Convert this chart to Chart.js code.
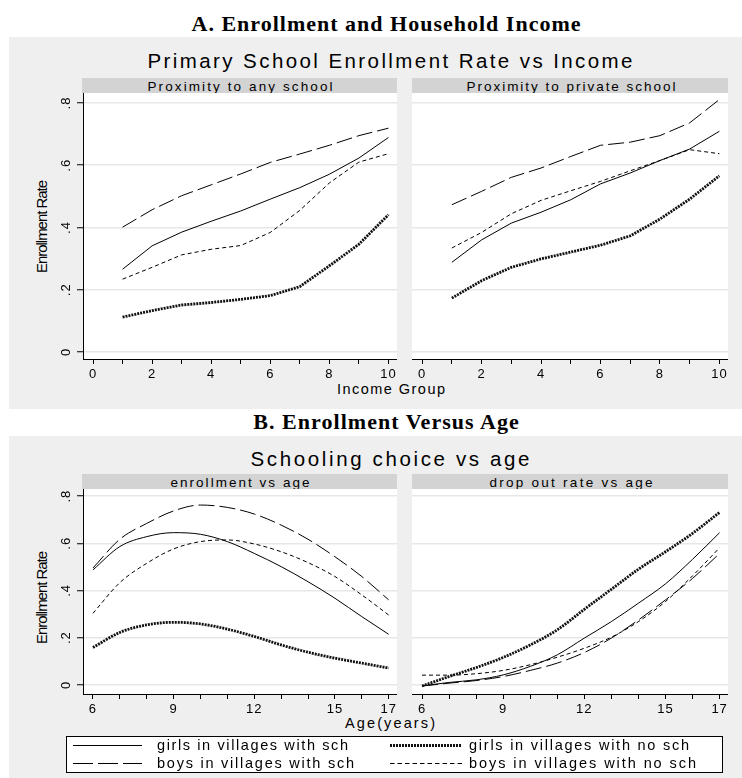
<!DOCTYPE html>
<html>
<head>
<meta charset="utf-8">
<script src="https://cdn.jsdelivr.net/npm/chart.js@4.4.1/dist/chart.umd.min.js"></script>
<style>
  html, body { margin: 0; padding: 0; background: #fff; }
  #page { position: relative; width: 742px; height: 778px; overflow: hidden;
          font-family: "Liberation Sans", Arial, sans-serif; color: #000; }
  .blk { position: absolute; }
  .panel { background: #efefef; }
  .strip { background: #d3d3d3; }
  .txt { position: absolute; white-space: nowrap; line-height: 1; }
  canvas { position: absolute; }
  svg { position: absolute; overflow: visible; }
</style>
</head>
<body>
<div id="page"></div>
<script>
// ---------- data ----------
const incomeGroups = [1, 2, 3, 4, 5, 6, 7, 8, 9, 10];
const ages = [6, 7, 8, 9, 10, 11, 12, 13, 14, 15, 16, 17];

const seriesLabels = {
  girlsSch:   'girls in villages with sch',
  girlsNoSch: 'girls in villages with no sch',
  boysSch:    'boys in villages with sch',
  boysNoSch:  'boys in villages with no sch'
};

// Enrollment rate by income group, proximity to any school
const anyGirlsSch   = [0.266, 0.341, 0.385, 0.420, 0.453, 0.491, 0.528, 0.571, 0.623, 0.689];
const anyGirlsNoSch = [0.112, 0.133, 0.151, 0.159, 0.169, 0.181, 0.210, 0.277, 0.346, 0.441];
const anyBoysSch    = [0.401, 0.457, 0.502, 0.537, 0.572, 0.609, 0.636, 0.664, 0.695, 0.719];
const anyBoysNoSch  = [0.234, 0.272, 0.312, 0.330, 0.342, 0.384, 0.455, 0.543, 0.610, 0.637];

// Enrollment rate by income group, proximity to private school
const privGirlsSch   = [0.288, 0.360, 0.414, 0.449, 0.489, 0.540, 0.575, 0.615, 0.652, 0.709];
const privGirlsNoSch = [0.173, 0.229, 0.272, 0.299, 0.321, 0.343, 0.373, 0.427, 0.491, 0.566];
const privBoysSch    = [0.473, 0.516, 0.561, 0.591, 0.628, 0.664, 0.674, 0.695, 0.736, 0.811];
const privBoysNoSch  = [0.334, 0.384, 0.444, 0.487, 0.518, 0.548, 0.582, 0.615, 0.650, 0.637];

// Enrollment by age
const enrGirlsSch   = [0.487, 0.586, 0.628, 0.645, 0.638, 0.607, 0.557, 0.501, 0.437, 0.367, 0.289, 0.214];
const enrGirlsNoSch = [0.158, 0.222, 0.254, 0.265, 0.258, 0.236, 0.205, 0.169, 0.138, 0.113, 0.092, 0.071];
const enrBoysSch    = [0.495, 0.617, 0.684, 0.737, 0.762, 0.752, 0.724, 0.677, 0.617, 0.543, 0.459, 0.360];
const enrBoysNoSch  = [0.303, 0.433, 0.515, 0.576, 0.607, 0.614, 0.597, 0.564, 0.518, 0.459, 0.381, 0.296];

// Drop out rate by age
const dropGirlsSch   = [-0.005, 0.010, 0.021, 0.042, 0.078, 0.127, 0.198, 0.268, 0.346, 0.428, 0.532, 0.645];
const dropGirlsNoSch = [-0.005, 0.035, 0.073, 0.116, 0.169, 0.233, 0.320, 0.405, 0.490, 0.564, 0.642, 0.731];
const dropBoysSch    = [-0.005, 0.007, 0.018, 0.035, 0.061, 0.092, 0.137, 0.198, 0.275, 0.360, 0.451, 0.557];
const dropBoysNoSch  = [0.041, 0.041, 0.047, 0.061, 0.085, 0.117, 0.155, 0.202, 0.268, 0.353, 0.462, 0.581];

// Axis ticks
const rateTicks       = [0, 0.2, 0.4, 0.6, 0.8];
const rateTickLabels  = ['0', '.2', '.4', '.6', '.8'];
const incomeTicks     = [0, 1, 2, 3, 4, 5, 6, 7, 8, 9, 10];
const incomeTickLabels = ['0', '', '2', '', '4', '', '6', '', '8', '', '10'];
const ageTicks        = [6, 7, 8, 9, 10, 11, 12, 13, 14, 15, 16, 17];
const ageTickLabels   = ['6', '', '', '9', '', '', '12', '', '', '15', '', '17'];

// ---------- styles ----------
const lineStyles = {
  girlsSch:   { borderWidth: 1,   borderDash: [],      borderColor: '#000' },
  girlsNoSch: { borderWidth: 2.8, borderDash: [2, 1],  borderColor: '#111' },
  boysSch:    { borderWidth: 1,   borderDash: [16, 5], borderColor: '#000' },
  boysNoSch:  { borderWidth: 1,   borderDash: [4, 3],  borderColor: '#000' }
};
const legendDash = { girlsSch: '', girlsNoSch: '2 1', boysSch: '20 5', boysNoSch: '4.5 3' };

const SANS = '"Liberation Sans", Arial, sans-serif';
const SERIF = '"Liberation Serif", "Times New Roman", serif';
const Y_AXIS_LEFT = 40;   // left edge of the canvases that carry y tick labels
const X_AXIS_H = 26;      // room under each plot for x ticks and labels

const page = document.getElementById('page');
const meas = document.createElement('canvas').getContext('2d');

function block(cls, l, t, w, h) {
  const d = document.createElement('div');
  d.className = 'blk ' + cls;
  Object.assign(d.style, { left: l + 'px', top: t + 'px', width: w + 'px', height: h + 'px' });
  page.appendChild(d);
  return d;
}

// text centred on (cx, cy), spread to a given visible width
function text(str, cx, cy, font, width, opt = {}) {
  meas.font = font;
  const nat = meas.measureText(str).width;
  const ls = width ? (width - nat) / (str.length - 1) : 0;
  const d = document.createElement('div');
  d.className = 'txt';
  d.textContent = str;
  d.style.font = font;
  d.style.letterSpacing = ls + 'px';
  if (opt.align === 'left') {
    d.style.left = cx + 'px';
    d.style.top = cy + 'px';
    d.style.transform = 'translate(0,-50%)';
  } else {
    d.style.left = (cx + ls / 2) + 'px';
    d.style.top = cy + 'px';
    d.style.transform = 'translate(-50%,-50%)' + (opt.rotate ? ' rotate(-90deg)' : '');
  }
  page.appendChild(d);
  return d;
}

const plotBackground = {
  id: 'plotBackground',
  beforeDraw(chart) {
    const { ctx, chartArea: a } = chart;
    ctx.save();
    ctx.fillStyle = '#fff';
    ctx.fillRect(a.left, a.top, a.right - a.left, a.bottom - a.top);
    ctx.restore();
    ctx.letterSpacing = '1px';
  }
};

function zeroPad(s) { s.paddingLeft = s.paddingRight = s.paddingTop = s.paddingBottom = 0; }

function panel(box, cfg) {
  const left = cfg.showY ? Y_AXIS_LEFT : box.l;
  const W = box.r - left;
  const H = box.b - box.t + X_AXIS_H;
  const yW = box.l - left;
  const c = document.createElement('canvas');
  c.width = W; c.height = H;
  Object.assign(c.style, { left: left + 'px', top: box.t + 'px', width: W + 'px', height: H + 'px' });
  page.appendChild(c);

  const datasets = cfg.series.map(s => Object.assign({
    label: seriesLabels[s.key],
    data: cfg.xs.map((x, i) => ({ x, y: s.values[i] })),
    pointRadius: 0,
    fill: false,
    borderCapStyle: 'butt',
    borderJoinStyle: 'round',
    tension: cfg.smooth ? 0.4 : 0,
    cubicInterpolationMode: cfg.smooth ? 'monotone' : 'default'
  }, lineStyles[s.key]));

  return new Chart(c, {
    type: 'line',
    data: { datasets },
    options: {
      responsive: false, animation: false, devicePixelRatio: 1, events: [],
      layout: { padding: 0, autoPadding: false },
      plugins: { legend: { display: false }, tooltip: { enabled: false } },
      scales: {
        x: {
          type: 'linear', min: cfg.xMin, max: cfg.xMax,
          afterBuildTicks: s => { s.ticks = cfg.xTicks.map(v => ({ value: v })); },
          afterFit: s => { s.height = X_AXIS_H; zeroPad(s); },
          grid: { display: true, drawOnChartArea: false, drawTicks: true, tickLength: 5, tickColor: '#000', tickWidth: 1 },
          border: { display: true, color: '#000', width: 1 },
          ticks: { callback: (v, i) => cfg.xLabels[i], autoSkip: false, maxRotation: 0, minRotation: 0,
                   padding: 3, color: '#000', font: { family: SANS, size: 13 } }
        },
        y: {
          type: 'linear', min: cfg.yMin, max: cfg.yMax,
          afterBuildTicks: s => { s.ticks = rateTicks.map(v => ({ value: v })); },
          afterFit: s => { s.width = yW; zeroPad(s); },
          grid: { color: '#e7e7e7', lineWidth: 1.5, drawTicks: cfg.showY, tickLength: 6, tickColor: '#000', tickWidth: 1 },
          border: { display: cfg.showY, color: '#000', width: 1 },
          ticks: { display: cfg.showY, callback: (v, i) => rateTickLabels[i], minRotation: 90, maxRotation: 90,
                   crossAlign: 'center', padding: 5, color: '#000', font: { family: SANS, size: 13 } }
        }
      }
    },
    plugins: [plotBackground]
  });
}

// ---------- layout ----------
const plots = {
  aL: { l: 83,  t: 93,  r: 397, b: 359 },
  aR: { l: 412, t: 93,  r: 728, b: 359 },
  bL: { l: 83,  t: 489, r: 397, b: 694 },
  bR: { l: 412, t: 489, r: 728, b: 694 }
};

// Section A
text('A. Enrollment and Household Income', 386, 24, 'bold 22px ' + SERIF, 389);
block('panel', 9, 37, 733, 372);
text('Primary School Enrollment Rate vs Income', 390, 61, '20.5px ' + SANS, 485);
block('strip', 82, 78, 315, 15);
block('strip', 412, 78, 316, 15);
text('Proximity to any school', 240, 85.5, '13.5px ' + SANS, 185);
text('Proximity to private school', 571, 85.5, '13.5px ' + SANS, 209);
text('Enrollment Rate', 42, 227, '15px ' + SANS, 93, { rotate: true });
text('Income Group', 391, 389, '14.5px ' + SANS, 108);

const incomeCfg = { xs: incomeGroups, xMin: -0.34, xMax: 10.29, yMin: -0.0225, yMax: 0.832,
                    xTicks: incomeTicks, xLabels: incomeTickLabels, smooth: false };
panel(plots.aL, Object.assign({}, incomeCfg, { showY: true, series: [
  { key: 'girlsNoSch', values: anyGirlsNoSch },
  { key: 'boysNoSch', values: anyBoysNoSch },
  { key: 'boysSch', values: anyBoysSch },
  { key: 'girlsSch', values: anyGirlsSch }
]}));
panel(plots.aR, Object.assign({}, incomeCfg, { showY: false, series: [
  { key: 'girlsNoSch', values: privGirlsNoSch },
  { key: 'boysNoSch', values: privBoysNoSch },
  { key: 'boysSch', values: privBoysSch },
  { key: 'girlsSch', values: privGirlsSch }
]}));

// Section B
text('B. Enrollment Versus Age', 386, 422, 'bold 22px ' + SERIF, 267);
block('panel', 9, 436, 733, 342);
text('Schooling choice vs age', 390, 459, '20.5px ' + SANS, 279);
block('strip', 82, 474, 315, 15);
block('strip', 412, 474, 316, 15);
text('enrollment vs age', 240, 481.5, '13.5px ' + SANS, 139);
text('drop out rate vs age', 571, 481.5, '13.5px ' + SANS, 163);
text('Enrollment Rate', 42, 598, '15px ' + SANS, 93, { rotate: true });
text('Age(years)', 390, 723, '14.5px ' + SANS, 90);

const ageCfg = { xs: ages, xMin: 5.63, xMax: 17.31, yMin: -0.039, yMax: 0.83,
                 xTicks: ageTicks, xLabels: ageTickLabels, smooth: true };
panel(plots.bL, Object.assign({}, ageCfg, { showY: true, series: [
  { key: 'girlsNoSch', values: enrGirlsNoSch },
  { key: 'boysNoSch', values: enrBoysNoSch },
  { key: 'boysSch', values: enrBoysSch },
  { key: 'girlsSch', values: enrGirlsSch }
]}));
panel(plots.bR, Object.assign({}, ageCfg, { showY: false, series: [
  { key: 'girlsNoSch', values: dropGirlsNoSch },
  { key: 'boysNoSch', values: dropBoysNoSch },
  { key: 'boysSch', values: dropBoysSch },
  { key: 'girlsSch', values: dropGirlsSch }
]}));

// ---------- legend ----------
const lg = block('', 66, 736, 657, 37);
Object.assign(lg.style, { background: '#fff', border: '1px solid #000', boxSizing: 'border-box' });
const legendRows = [
  [{ key: 'girlsSch', x1: 73, x2: 142, tx: 157, w: 191 }, { key: 'girlsNoSch', x1: 390, x2: 462, tx: 469, w: 220 }],
  [{ key: 'boysSch',  x1: 73, x2: 142, tx: 157, w: 197 }, { key: 'boysNoSch',  x1: 390, x2: 462, tx: 469, w: 227 }]
];
const rowY = [745, 763];
const NS = 'http://www.w3.org/2000/svg';
const svg = document.createElementNS(NS, 'svg');
svg.setAttribute('width', 742); svg.setAttribute('height', 778);
svg.style.left = '0px'; svg.style.top = '0px';
legendRows.forEach((row, r) => row.forEach(item => {
  const ln = document.createElementNS(NS, 'line');
  const y = rowY[r] + 0.5;
  ln.setAttribute('x1', item.x1); ln.setAttribute('x2', item.x2);
  ln.setAttribute('y1', y); ln.setAttribute('y2', y);
  ln.setAttribute('stroke', lineStyles[item.key].borderColor);
  ln.setAttribute('stroke-width', lineStyles[item.key].borderWidth);
  if (legendDash[item.key]) ln.setAttribute('stroke-dasharray', legendDash[item.key]);
  svg.appendChild(ln);
}));
page.appendChild(svg);
legendRows.forEach((row, r) => row.forEach(item => {
  text(seriesLabels[item.key], item.tx, rowY[r], '14.5px ' + SANS, item.w, { align: 'left' });
}));
</script>
</body>
</html>
